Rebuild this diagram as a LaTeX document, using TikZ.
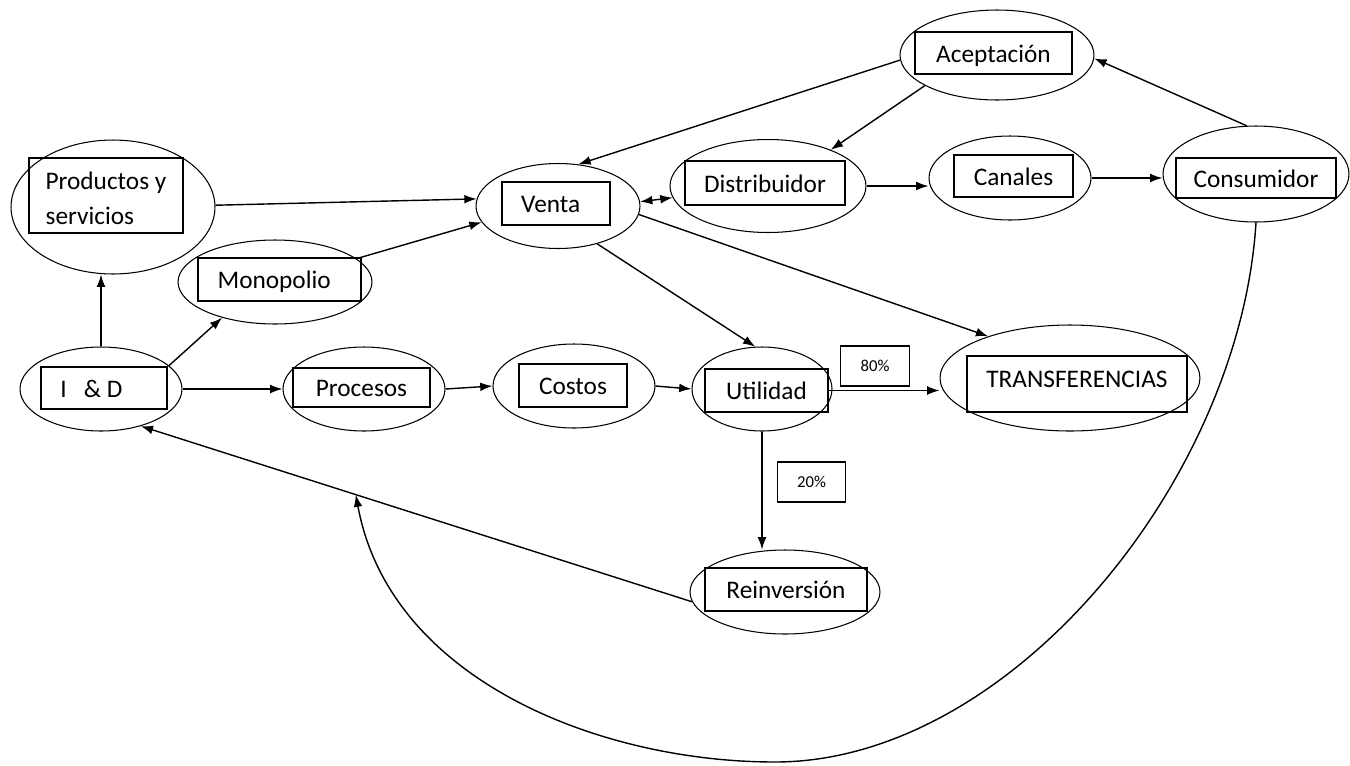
\documentclass[tikz,border=0pt]{standalone}
\usepackage{fontspec}
\setmainfont{Carlito}
\usetikzlibrary{shapes.geometric,calc,arrows.meta}

\begin{document}
\begin{tikzpicture}[x=0.02cm,y=-0.02cm,>={Latex[length=7pt,width=5pt]},
  oval/.style={draw,ellipse,line width=0.6pt,inner sep=0pt},
  caja/.style={draw,line width=1pt,inner sep=0pt,text height=11.5pt,text depth=1pt,font=\fontsize{14.4}{20}\selectfont},
  pct/.style={draw,line width=0.8pt,inner sep=0pt,minimum width=1.37cm,minimum height=0.8cm,font=\fontsize{9.5}{11}\selectfont},
  flecha/.style={->,line width=0.8pt}]
\useasboundingbox (0,0) rectangle (1350,765);

% elipses
\node[oval,minimum width=4.08cm,minimum height=2.68cm] (prod) at (113,207) {};
\node[oval,minimum width=3.88cm,minimum height=1.68cm] (mono) at (275,282) {};
\node[oval,minimum width=3.24cm,minimum height=1.68cm] (iyd) at (101,389) {};
\node[oval,minimum width=3.24cm,minimum height=1.68cm] (proc) at (364,389) {};
\node[oval,minimum width=3.24cm,minimum height=1.68cm] (cost) at (574,386) {};
\node[oval,minimum width=2.8cm,minimum height=1.68cm] (util) at (762,389) {};
\node[oval,minimum width=5.2cm,minimum height=2.12cm] (trans) at (1070,378) {};
\node[oval,minimum width=3.8cm,minimum height=1.68cm] (reinv) at (785,592) {};
\node[oval,minimum width=3.28cm,minimum height=1.7cm] (venta) at (558,206) {};
\node[oval,minimum width=3.92cm,minimum height=1.86cm] (dist) at (768,186) {};
\node[oval,minimum width=3.88cm,minimum height=1.8cm] (acep) at (997,55) {};
\node[oval,minimum width=3.24cm,minimum height=1.68cm] (canal) at (1010,178) {};
\node[oval,minimum width=3.72cm,minimum height=1.92cm] (cons) at (1256,174) {};

% cajas
\node[caja,text height=,text depth=,minimum width=3.08cm,minimum height=1.5cm,align=left] (prodbox) at (106,195.5) {\rule{0pt}{13pt}Productos y\\servicios};
\node[caja,minimum width=3.26cm,minimum height=0.86cm] (monobox) at (279.5,279.5) {Monopolio\hspace{6pt}\mbox{}};
\node[caja,minimum width=2.52cm,minimum height=0.84cm] (iydbox) at (104,388) {I\hspace{0.45em} \& D\hspace{1em}\mbox{}};
\node[caja,minimum width=2.74cm,minimum height=0.78cm] (procbox) at (361.5,387.5) {Procesos};
\node[caja,minimum width=2.16cm,minimum height=0.86cm] (costbox) at (573,385.5) {Costos};
\node[caja,minimum width=2.46cm,minimum height=0.86cm] (utilbox) at (766.5,390.5) {Utilidad};
\node[caja,minimum width=4.4cm,minimum height=1.12cm] (transbox) at (1077,384) {\raisebox{3.4pt}{TRANSFERENCIAS}};
\node[caja,minimum width=3.24cm,minimum height=0.86cm] (reinvbox) at (786,589.5) {Reinversión};
\node[caja,minimum width=2.16cm,minimum height=0.86cm] (ventabox) at (556,203.5) {Venta\hspace{6pt}\mbox{}};
\node[caja,minimum width=3.2cm,minimum height=0.88cm] (distbox) at (765,183) {Distribuidor};
\node[caja,minimum width=3.14cm,minimum height=0.84cm] (acepbox) at (993.5,53) {Aceptación};
\node[caja,minimum width=2.38cm,minimum height=0.84cm] (canalbox) at (1013.5,176) {Canales};
\node[caja,minimum width=3.2cm,minimum height=0.8cm] (consbox) at (1256,178) {Consumidor};
\node[pct] (p80) at (875,366) {80\%};
\node[pct] (p20) at (811.5,482) {20\%};

% flechas
\draw[flecha] (prod.1) -- (venta.175);
\draw[flecha] (mono.16) -- (venta.192);
\draw[flecha] (iyd.north) -- (iyd.north |- prod.south);
\draw[flecha] (iyd.19) -- (mono.214);
\draw[flecha] (iyd.east) -- (proc.west);
\draw[flecha] (proc.east) -- (cost.west);
\draw[flecha] (cost.east) -- (util.west);
\draw[flecha] (utilbox.east) -- (utilbox.east -| trans.west);
\draw[flecha] (util.south) -- (util.south |- reinv.north);
\draw[flecha] (venta.316) -- (util.99);
\draw[flecha] (venta.354) -- (trans.153);
\draw[flecha,<->] (venta.3) -- (dist.187);
\draw[flecha] (acep.183) -- (venta.64);
\draw[flecha] (acep.203) -- (dist.30);
\draw[flecha] (dist.east) -- (dist.east -| canal.west);
\draw[flecha] (canal.east) -- (canal.east -| cons.west);
\draw[flecha] (cons.101) -- (acep.358);
\draw[flecha] (reinv.186) -- (iyd.317);
\coordinate (ret) at ($(reinv.186)!0.61!(iyd.317)$);
\draw[flecha] (cons.south) .. controls (1240,480) and (1010,762) .. (775,762)
  .. controls (600,762) and (390,680) .. (ret);
\end{tikzpicture}
\end{document}
